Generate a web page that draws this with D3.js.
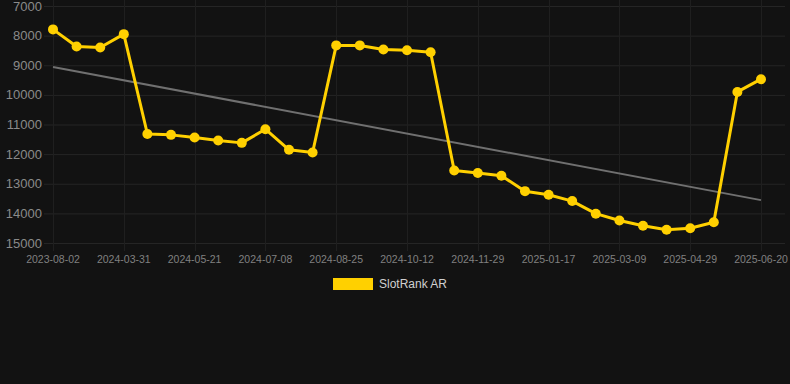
<!DOCTYPE html>
<html>
<head>
<meta charset="utf-8">
<script src="https://cdn.jsdelivr.net/npm/d3@7"></script>
<style>
  html, body { margin: 0; padding: 0; background: #121212; }
  svg { display: block; font-family: "Liberation Sans", Arial, sans-serif; }
</style>
</head>
<body>
<svg id="chart" width="790" height="384"></svg>
<script>
// x labels shown every third point
const dates = [
  "2023-08-02", "", "", "2024-03-31", "", "", "2024-05-21", "", "", "2024-07-08",
  "", "", "2024-08-25", "", "", "2024-10-12", "", "", "2024-11-29", "",
  "", "2025-01-17", "", "", "2025-03-09", "", "", "2025-04-29", "", "",
  "2025-06-20"
]
const ranks = [
  7790, 8370, 8400, 7950, 11320, 11350, 11440, 11540, 11620, 11160,
  11855, 11945, 8330, 8330, 8470, 8495, 8560, 12550, 12640, 12730,
  13250, 13370, 13585, 14010, 14240, 14420, 14550, 14500, 14300, 9900,
  9470
]
const yTicks = [7000, 8000, 9000, 10000, 11000, 12000, 13000, 14000, 15000]
const seriesName = "SlotRank AR"

const width = 790
const margins = {left: 44, right: 5, top: 6, bottom: 141}
const plotBottom = 384 - margins.bottom

const svg = d3.select("#chart")

const x = d3
  .scalePoint()
  .domain(d3.range(ranks.length))
  .range([53, 761])

const y = d3
  .scaleLinear()
  .domain([7000, 15000])
  .range([margins.top, plotBottom])

// grid
const grid = svg.append("g").attr("class", "grid")

grid
  .selectAll("line.h")
  .data(yTicks)
  .join("line")
  .attr("class", "h")
  .attr("x1", margins.left)
  .attr("x2", width - margins.right)
  .attr("y1", (d) => y(d) + 0.5)
  .attr("y2", (d) => y(d) + 0.5)
  .attr("stroke", "#252525")

const labelled = d3.range(ranks.length).filter((i) => dates[i] !== "")

grid
  .selectAll("line.v")
  .data(labelled)
  .join("line")
  .attr("class", "v")
  .attr("x1", (i) => Math.round(x(i)) + 0.5)
  .attr("x2", (i) => Math.round(x(i)) + 0.5)
  .attr("y1", 0)
  .attr("y2", plotBottom + 8)
  .attr("stroke", "#1f1f1f")

// y labels
svg
  .append("g")
  .selectAll("text")
  .data(yTicks)
  .join("text")
  .attr("x", 42)
  .attr("y", (d) => y(d))
  .attr("dy", "0.35em")
  .attr("text-anchor", "end")
  .attr("fill", "#8a8a8a")
  .style("font-size", "13px")
  .text((d) => d)

// x labels
svg
  .append("g")
  .selectAll("text")
  .data(labelled)
  .join("text")
  .attr("x", (i) => x(i))
  .attr("y", plotBottom + 20)
  .attr("text-anchor", "middle")
  .attr("fill", "#808080")
  .style("font-size", "10.5px")
  .text((i) => dates[i])

// trend line (least squares)
const idx = d3.range(ranks.length)
const mx = d3.mean(idx)
const my = d3.mean(ranks)
const slope =
  d3.sum(idx, (i) => (i - mx) * (ranks[i] - my)) /
  d3.sum(idx, (i) => (i - mx) * (i - mx))
const icpt = my - slope * mx
const ends = [0, ranks.length - 1]

svg
  .append("path")
  .datum(ends)
  .attr("fill", "none")
  .attr("stroke", "#707070")
  .attr("stroke-width", 2)
  .attr(
    "d",
    d3
      .line()
      .x((i) => x(i))
      .y((i) => y(icpt + slope * i))
  )

// series
svg
  .append("path")
  .datum(ranks)
  .attr("fill", "none")
  .attr("stroke", "#ffd000")
  .attr("stroke-width", 3)
  .attr("stroke-linejoin", "round")
  .attr(
    "d",
    d3
      .line()
      .x((d, i) => x(i))
      .y((d) => y(d))
  )

svg
  .append("g")
  .selectAll("circle")
  .data(ranks)
  .join("circle")
  .attr("cx", (d, i) => x(i))
  .attr("cy", (d) => y(d))
  .attr("r", 5)
  .attr("fill", "#ffd000")

// legend
const legend = svg.append("g").attr("transform", "translate(333, 278)")
legend
  .append("rect")
  .attr("width", 40)
  .attr("height", 12)
  .attr("fill", "#ffd000")
legend
  .append("text")
  .attr("x", 46)
  .attr("y", 6)
  .attr("dy", "0.35em")
  .attr("fill", "#d0d0d0")
  .style("font-size", "12px")
  .text(seriesName)
</script>
</body>
</html>
